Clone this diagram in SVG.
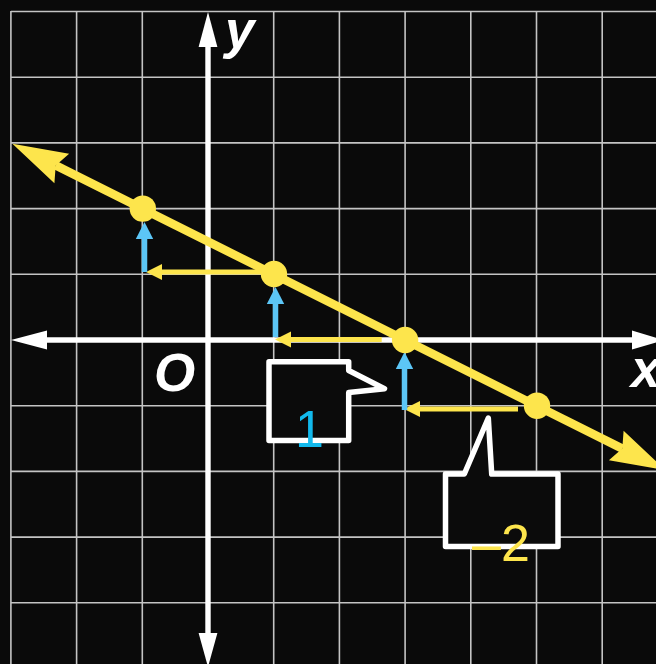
<svg xmlns="http://www.w3.org/2000/svg" width="656" height="664" viewBox="0 0 656 664">
<style>
.grid line{stroke:#c4c4c4;stroke-width:1.6}
.axis{stroke:#ffffff;stroke-width:5.4;fill:none}
.ah{fill:#ffffff}
.yl{stroke:#fde54c;stroke-width:8.5;fill:none}
.dot{fill:#fde54c}
.bl{stroke:#5cc6f6;stroke-width:5.5;fill:none}
.ys{stroke:#fde54c;stroke-width:5;fill:none}
.box{fill:#0b0b0b;stroke:#ffffff;stroke-width:5.5;stroke-linejoin:round}
.lab{font-family:"Liberation Sans",Arial,sans-serif;font-weight:bold;font-style:italic;font-size:53px;fill:#ffffff}
.num{font-family:"Liberation Sans",Arial,sans-serif;font-size:52px}
</style>
<defs>
<marker id="bigY" markerUnits="userSpaceOnUse" orient="auto-start-reverse" refX="0" refY="0" markerWidth="60" markerHeight="40" viewBox="-10 -20 62 40" overflow="visible">
<path d="M50,0 L-7,-17 L0,0 L-7,17 Z" fill="#fde54c"/>
</marker>
<marker id="bH" markerUnits="userSpaceOnUse" orient="auto" refX="0" refY="0" markerWidth="20" markerHeight="20" viewBox="-1 -10 20 20" overflow="visible">
<path d="M17,0 L0,-8.7 L0,8.7 Z" fill="#5cc6f6"/>
</marker>
<marker id="yH" markerUnits="userSpaceOnUse" orient="auto" refX="0" refY="0" markerWidth="20" markerHeight="20" viewBox="-1 -10 20 20" overflow="visible">
<path d="M16,0 L0,-8 L0,8 Z" fill="#fde54c"/>
</marker>
</defs>
<rect x="0" y="0" width="656" height="664" fill="#0a0a0a"/>
<g id="grid" class="grid">
<line x1="10.9" y1="11" x2="10.9" y2="664"/>
<line x1="76.6" y1="11" x2="76.6" y2="664"/>
<line x1="142.3" y1="11" x2="142.3" y2="664"/>
<line x1="273.7" y1="11" x2="273.7" y2="664"/>
<line x1="339.4" y1="11" x2="339.4" y2="664"/>
<line x1="405.1" y1="11" x2="405.1" y2="664"/>
<line x1="470.8" y1="11" x2="470.8" y2="664"/>
<line x1="536.5" y1="11" x2="536.5" y2="664"/>
<line x1="602.2" y1="11" x2="602.2" y2="664"/>
<line x1="11" y1="11.5" x2="656" y2="11.5"/>
<line x1="11" y1="77.2" x2="656" y2="77.2"/>
<line x1="11" y1="142.9" x2="656" y2="142.9"/>
<line x1="11" y1="208.6" x2="656" y2="208.6"/>
<line x1="11" y1="274.3" x2="656" y2="274.3"/>
<line x1="11" y1="405.7" x2="656" y2="405.7"/>
<line x1="11" y1="471.4" x2="656" y2="471.4"/>
<line x1="11" y1="537.1" x2="656" y2="537.1"/>
<line x1="11" y1="602.8" x2="656" y2="602.8"/>
</g>
<g id="axes">
<line class="axis" x1="208" y1="45" x2="208" y2="635"/>
<line class="axis" x1="45" y1="340" x2="634" y2="340"/>
<polygon class="ah" points="208,12 198.6,47 217.4,47"/>
<polygon class="ah" points="208,667 198.6,633 217.4,633"/>
<polygon class="ah" points="11,340 47,330.5 47,349.5"/>
<polygon class="ah" points="664,340 632,330.5 632,349.5"/>
<text class="lab" x="225" y="48">y</text>
<text class="lab" x="631" y="387">x</text>
<text class="lab" x="154" y="391" font-size="52">O</text>
</g>
<g id="line">
<line class="yl" x1="55.7" y1="165.4" x2="622.3" y2="448.6" marker-start="url(#bigY)" marker-end="url(#bigY)"/>
</g>
<g id="connectors">
<line class="ys" x1="262" y1="272" x2="162" y2="272" marker-end="url(#yH)"/>
<line class="ys" x1="381.7" y1="339.5" x2="291" y2="339.5" marker-end="url(#yH)"/>
<line class="ys" x1="518" y1="409" x2="420" y2="409" marker-end="url(#yH)"/>
<line class="bl" x1="144.5" y1="272" x2="144.5" y2="239" marker-end="url(#bH)"/>
<line class="bl" x1="275.5" y1="337" x2="275.5" y2="304" marker-end="url(#bH)"/>
<line class="bl" x1="404.5" y1="410" x2="404.5" y2="369" marker-end="url(#bH)"/>
</g>
<g id="points">
<circle class="dot" cx="142.8" cy="208.6" r="13.2"/>
<circle class="dot" cx="274" cy="274" r="13.2"/>
<circle class="dot" cx="405.1" cy="340" r="13.2"/>
<circle class="dot" cx="537" cy="405.7" r="13.2"/>
</g>
<g id="callout1">
<path class="box" d="M269,361.7 H348.7 V370.5 L384.5,388.8 L348.7,392.5 V440.5 H269 Z"/>
<text class="num" x="295" y="447" fill="#12b9ec">1</text>
</g>
<g id="callout2">
<path class="box" d="M445.5,474 H464.3 L488.3,418 L491.7,474 H558 V546.5 H445.5 Z"/>
<text class="num" x="472" y="561" fill="#fde54c">–2</text>
</g>
</svg>
